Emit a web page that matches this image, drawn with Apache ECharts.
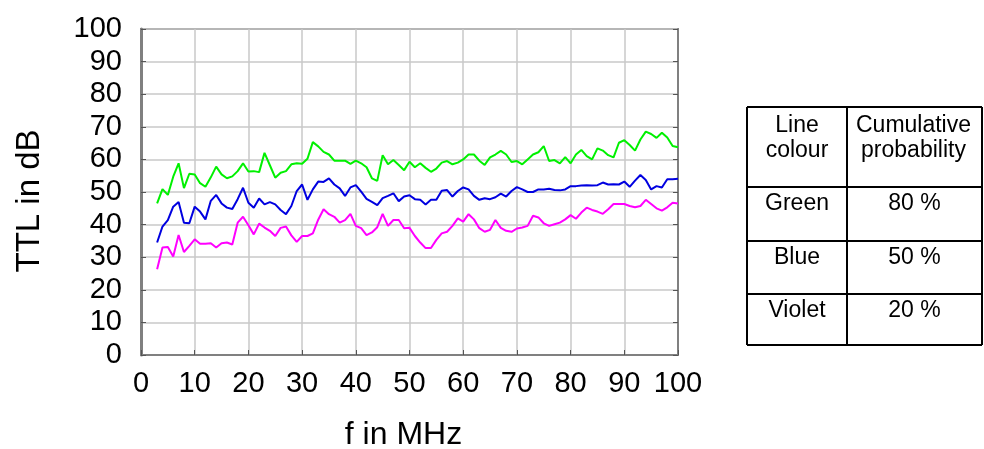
<!DOCTYPE html>
<html>
<head>
<meta charset="utf-8">
<title>TTL vs frequency</title>
<script src="https://cdn.jsdelivr.net/npm/echarts@6/dist/echarts.min.js"></script>
<style>
  html, body { margin: 0; padding: 0; background: #ffffff; }
  #chart { width: 984px; height: 449px; }
</style>
</head>
<body>
<div id="chart"></div>
<script>
// Frequency points in MHz
const freq = [3, 4, 5, 6, 7, 8, 9, 10, 11, 12, 13, 14, 15, 16, 17, 18, 19, 20,
  21, 22, 23, 24, 25, 26, 27, 28, 29, 30, 31, 32, 33, 34, 35, 36, 37, 38, 39, 40,
  41, 42, 43, 44, 45, 46, 47, 48, 49, 50, 51, 52, 53, 54, 55, 56, 57, 58, 59, 60,
  61, 62, 63, 64, 65, 66, 67, 68, 69, 70, 71, 72, 73, 74, 75, 76, 77, 78, 79, 80,
  81, 82, 83, 84, 85, 86, 87, 88, 89, 90, 91, 92, 93, 94, 95, 96, 97, 98, 99, 100];

// TTL in dB, 80 % cumulative probability
const green = [46.5, 50.9, 49.1, 54.7, 58.8, 51.2, 55.6, 55.4, 52.7, 51.6, 54.5, 57.8, 55.4, 54.2, 54.8, 56.4, 58.8, 56.3,
  56.4, 56.1, 62.0, 58.2, 54.4, 55.9, 56.4, 58.5, 58.8, 58.7, 60.2, 65.3, 64.0, 62.3, 61.5, 59.6, 59.6, 59.6, 58.6, 59.6,
  58.8, 57.6, 54.2, 53.4, 61.3, 58.5, 59.8, 58.3, 56.7, 59.3, 57.6, 58.8, 57.4, 56.2, 57.2, 59.0, 59.5, 58.5, 59.0, 60.0,
  61.5, 61.5, 59.6, 58.3, 60.6, 61.5, 62.6, 61.5, 59.2, 59.5, 58.5, 60.0, 61.5, 62.2, 64.1, 59.5, 59.8, 58.8, 60.7, 58.8,
  61.5, 62.9, 61.0, 60.0, 63.4, 62.7, 61.3, 60.6, 65.1, 65.9, 64.4, 62.7, 66.1, 68.5, 67.8, 66.6, 68.2, 66.7, 64.1, 63.7];

// TTL in dB, 50 % cumulative probability
const blue = [34.5, 39.4, 41.4, 45.5, 46.9, 40.6, 40.4, 45.5, 44.0, 41.6, 47.3, 49.1, 46.5, 45.2, 44.8, 47.8, 51.3, 46.7,
  45.2, 48.0, 46.2, 46.9, 46.2, 44.5, 43.2, 45.7, 50.3, 52.3, 47.6, 50.8, 53.2, 53.1, 54.2, 52.3, 51.1, 48.8, 51.4, 52.1,
  50.1, 47.9, 47.0, 46.0, 48.1, 48.8, 49.6, 47.2, 48.6, 49.0, 47.8, 47.6, 46.2, 47.6, 47.6, 50.4, 50.6, 48.6, 50.3, 51.4,
  50.8, 48.8, 47.6, 48.1, 47.8, 48.4, 49.5, 48.6, 50.3, 51.5, 50.8, 50.0, 50.0, 50.8, 50.8, 51.0, 50.6, 50.5, 50.8, 51.8,
  51.8, 52.0, 52.1, 52.0, 52.1, 52.9, 52.3, 52.4, 52.3, 53.2, 51.6, 53.5, 55.2, 53.7, 50.8, 51.8, 51.4, 53.9, 53.9, 54.1];

// TTL in dB, 20 % cumulative probability
const violet = [26.3, 33.0, 33.1, 30.2, 36.8, 31.6, 33.5, 35.5, 34.1, 34.1, 34.3, 33.0, 34.3, 34.5, 33.9, 40.6, 42.4, 39.8,
  37.0, 40.3, 39.1, 38.1, 36.5, 39.0, 39.4, 36.7, 34.7, 36.5, 36.5, 37.3, 41.5, 44.7, 43.2, 42.4, 40.6, 41.4, 43.3, 39.6,
  38.9, 36.8, 37.6, 39.2, 43.3, 39.6, 41.4, 41.4, 38.9, 39.0, 36.5, 34.5, 32.8, 32.8, 35.3, 37.3, 37.8, 39.6, 41.9, 40.9,
  43.2, 41.6, 38.9, 37.8, 38.4, 41.4, 39.0, 38.1, 37.8, 38.8, 39.1, 39.6, 42.7, 42.2, 40.4, 39.6, 40.1, 40.6, 41.6, 42.9,
  41.8, 43.7, 45.2, 44.5, 44.0, 43.3, 44.7, 46.3, 46.3, 46.3, 45.7, 45.3, 45.7, 47.6, 46.3, 45.0, 44.3, 45.3, 46.7, 46.5];

// Side table text
const tableHeader = [['Line', 'colour'], ['Cumulative', 'probability']];
const tableColours = ['Green', 'Blue', 'Violet'];
const tableProbs = ['80 %', '50 %', '20 %'];

const FONT = 'Arial, "Liberation Sans", sans-serif';
const pairs = ys => freq.map((f, i) => [f, ys[i]]);

const chart = echarts.init(document.getElementById('chart'), null, { renderer: 'canvas' });

// Table geometry (layout only)
const tx0 = 747, tx1 = 847, tx2 = 982;
const rowY = [107, 187, 241, 294, 345];
const tableGraphics = [];
const lineStyle = { stroke: '#000', lineWidth: 2 };
rowY.forEach(y => tableGraphics.push({ type: 'line', shape: { x1: tx0, y1: y, x2: tx2, y2: y }, style: lineStyle, silent: true }));
[tx0, tx1, tx2].forEach(x => tableGraphics.push({ type: 'line', shape: { x1: x, y1: rowY[0], x2: x, y2: rowY[4] }, style: lineStyle, silent: true }));
const textStyle = (x, y, t) => ({
  type: 'text', x: x, y: y, silent: true,
  style: { text: t, fill: '#000', font: '23px ' + FONT, textAlign: 'center', textVerticalAlign: 'middle' }
});
tableGraphics.push(textStyle((tx0 + tx1) / 2, 126, tableHeader[0][0]));
tableGraphics.push(textStyle((tx0 + tx1) / 2, 151, tableHeader[0][1]));
tableGraphics.push(textStyle((tx1 + tx2) / 2 - 1, 126, tableHeader[1][0]));
tableGraphics.push(textStyle((tx1 + tx2) / 2 - 1, 151, tableHeader[1][1]));
tableColours.forEach((c, i) => {
  const y = rowY[i + 1] + 17;
  tableGraphics.push(textStyle((tx0 + tx1) / 2, y, c));
  tableGraphics.push(textStyle((tx1 + tx2) / 2, y, tableProbs[i]));
});

const gridColor = '#c8c8c8';
const frameColor = '#808080';

chart.setOption({
  backgroundColor: '#ffffff',
  animation: false,
  grid: {
    left: 141, right: 306, top: 29, bottom: 94,
    outerBoundsMode: 'none',
    show: true, borderColor: frameColor, borderWidth: 2
  },
  xAxis: [{
    type: 'value', min: 0, max: 100, interval: 10,
    name: 'f in MHz', nameLocation: 'middle', nameGap: 64,
    nameTextStyle: { fontSize: 32, color: '#000', fontFamily: FONT, padding: [0, 12, 0, 0] },
    axisLine: { show: true, lineStyle: { color: frameColor, width: 2 } },
    axisTick: { show: true, inside: true, length: 5, lineStyle: { color: '#555' } },
    axisLabel: { fontSize: 29, color: '#000', fontFamily: FONT, margin: 14 },
    splitLine: { show: true, lineStyle: { color: gridColor, width: 1.5 } }
  }],
  yAxis: [{
    type: 'value', min: 0, max: 100, interval: 10,
    name: 'TTL in dB', nameLocation: 'middle', nameGap: 95, nameRotate: 90,
    nameTextStyle: { fontSize: 33, color: '#000', fontFamily: FONT, padding: [0, 18, 0, 0] },
    axisLine: { show: true, lineStyle: { color: frameColor, width: 3 } },
    axisTick: { show: true, inside: true, length: 5, lineStyle: { color: '#555' } },
    axisLabel: { fontSize: 29, color: '#000', fontFamily: FONT, margin: 19 },
    splitLine: { show: true, lineStyle: { color: gridColor, width: 1.5 } }
  }, {
    type: 'value', min: 0, max: 100, interval: 10, position: 'right',
    axisLine: { show: true, lineStyle: { color: frameColor, width: 2 } },
    axisTick: { show: true, inside: true, length: 5, lineStyle: { color: '#555' } },
    axisLabel: { show: false },
    splitLine: { show: false }
  }],
  series: [
    { name: 'Green', type: 'line', data: pairs(green), symbol: 'none', lineStyle: { color: '#00f000', width: 2 }, itemStyle: { color: '#00f000' }, z: 3 },
    { name: 'Blue', type: 'line', data: pairs(blue), symbol: 'none', lineStyle: { color: '#0000e0', width: 2 }, itemStyle: { color: '#0000e0' }, z: 3 },
    { name: 'Violet', type: 'line', data: pairs(violet), symbol: 'none', lineStyle: { color: '#ff00ff', width: 2 }, itemStyle: { color: '#ff00ff' }, z: 3 }
  ],
  graphic: tableGraphics
});
</script>
</body>
</html>
